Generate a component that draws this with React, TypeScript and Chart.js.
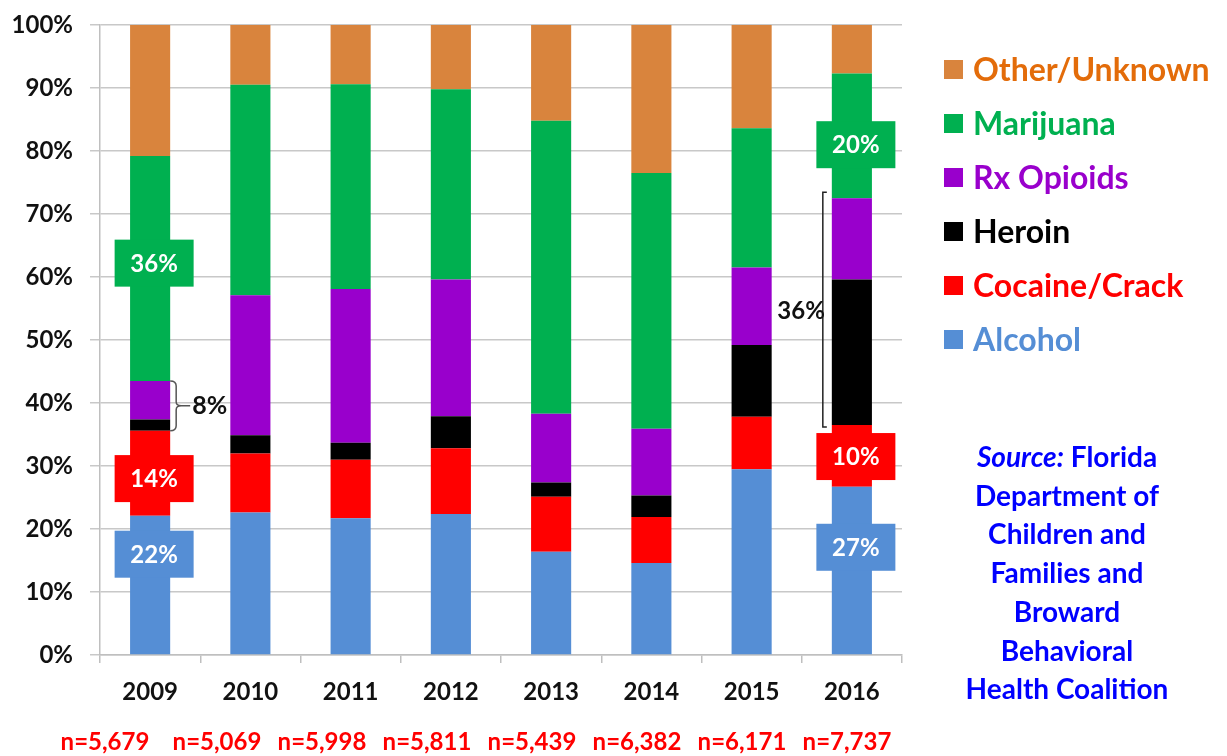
import React, { useEffect, useRef } from "react";
import { Chart, registerables } from "chart.js";

Chart.register(...registerables);

// ---------- data ----------
const years = ["2009", "2010", "2011", "2012", "2013", "2014", "2015", "2016"];
const sampleSizes = ["n=5,679", "n=5,069", "n=5,998", "n=5,811", "n=5,439", "n=6,382", "n=6,171", "n=7,737"];

const alcohol = [22.1, 22.6, 21.7, 22.4, 16.4, 14.6, 29.5, 26.7];
const cocaineCrack = [13.5, 9.4, 9.3, 10.4, 8.7, 7.3, 8.3, 9.8];
const heroin = [1.8, 2.9, 2.7, 5.1, 2.3, 3.4, 11.4, 23.1];
const rxOpioids = [6.1, 22.2, 24.4, 21.7, 10.9, 10.6, 12.3, 12.9];
const marijuana = [35.7, 33.4, 32.5, 30.2, 46.5, 40.6, 22.1, 19.8];
const otherUnknown = [20.8, 9.5, 9.4, 10.2, 15.2, 23.5, 16.4, 7.7];

const seriesNames = ["Alcohol", "Cocaine/Crack", "Heroin", "Rx Opioids", "Marijuana", "Other/Unknown"];
const seriesValues = [alcohol, cocaineCrack, heroin, rxOpioids, marijuana, otherUnknown];

// callout labels: series, year, text, value on the y axis where the label sits
const calloutSeries = ["Marijuana", "Cocaine/Crack", "Alcohol", "Marijuana", "Cocaine/Crack", "Alcohol"];
const calloutYears = ["2009", "2009", "2009", "2016", "2016", "2016"];
const calloutTexts = ["36%", "14%", "22%", "20%", "10%", "27%"];
const calloutAt = [62.2, 28.0, 16.0, 81.0, 31.5, 17.1];

// bracket annotations spanning Heroin + Rx Opioids
const bracketYears = ["2009", "2016"];
const bracketTexts = ["8%", "36%"];
const bracketFrom = "Heroin";
const bracketTo = "Rx Opioids";

const sourceLines = ["Florida", "Department of", "Children and", "Families and", "Broward", "Behavioral", "Health Coalition"];

// ---------- styles ----------
const FONT = 'Lato, "Open Sans", "DejaVu Sans", sans-serif';
const barColors: Record<string, string> = {
  "Alcohol": "#558ED5",
  "Cocaine/Crack": "#FF0000",
  "Heroin": "#000000",
  "Rx Opioids": "#9900CC",
  "Marijuana": "#00B050",
  "Other/Unknown": "#D9843D",
};
const legendTextColors: Record<string, string> = {
  "Alcohol": "#558ED5",
  "Cocaine/Crack": "#FF0000",
  "Heroin": "#000000",
  "Rx Opioids": "#9900CC",
  "Marijuana": "#00B050",
  "Other/Unknown": "#E36C0A",
};

const annotationsPlugin = {
  id: "annotations",
  afterDatasetsDraw(chart: any) {
    const ctx = chart.ctx as CanvasRenderingContext2D;
    const ys = chart.scales.y;
    const dsIndex = (name: string) => chart.data.datasets.findIndex((d: any) => d.label === name);

    ctx.save();
    // callouts
    for (let i = 0; i < calloutTexts.length; i++) {
      const di = dsIndex(calloutSeries[i]);
      const yi = years.indexOf(calloutYears[i]);
      const bar = chart.getDatasetMeta(di).data[yi];
      const cx = bar.x + 4;
      const cy = ys.getPixelForValue(calloutAt[i]);
      const w = 79, h = 47;
      ctx.fillStyle = barColors[calloutSeries[i]];
      ctx.fillRect(cx - w / 2, cy - h / 2, w, h);
      ctx.fillStyle = "#FFFFFF";
      ctx.font = `bold 24px ${FONT}`;
      ctx.textAlign = "center";
      ctx.textBaseline = "middle";
      ctx.fillText(calloutTexts[i], cx, cy + 1);
    }

    // brackets
    const fromIdx = dsIndex(bracketFrom);
    const toIdx = dsIndex(bracketTo);
    bracketYears.forEach((yr, k) => {
      const yi = years.indexOf(yr);
      let below = 0;
      for (let d = 0; d < fromIdx; d++) below += chart.data.datasets[d].data[yi];
      let upto = 0;
      for (let d = 0; d <= toIdx; d++) upto += chart.data.datasets[d].data[yi];
      const bar = chart.getDatasetMeta(toIdx).data[yi];
      const yTop = ys.getPixelForValue(upto);
      const yBot = ys.getPixelForValue(below);
      const yMid = (yTop + yBot) / 2;
      ctx.lineWidth = 1.5;
      if (k === 0) {
        const xr = bar.x + bar.width / 2;
        ctx.strokeStyle = "#555";
        ctx.beginPath();
        ctx.moveTo(xr, yTop);
        ctx.quadraticCurveTo(xr + 6, yTop, xr + 6, yTop + 5);
        ctx.lineTo(xr + 6, yMid - 4);
        ctx.quadraticCurveTo(xr + 6, yMid, xr + 11, yMid);
        ctx.quadraticCurveTo(xr + 6, yMid, xr + 6, yMid + 4);
        ctx.lineTo(xr + 6, yBot - 5);
        ctx.quadraticCurveTo(xr + 6, yBot, xr, yBot);
        ctx.moveTo(xr + 11, yMid);
        ctx.lineTo(xr + 20, yMid);
        ctx.stroke();
        ctx.fillStyle = "#111";
        ctx.font = `bold 25px ${FONT}`;
        ctx.textAlign = "left";
        ctx.textBaseline = "middle";
        ctx.fillText(bracketTexts[k], xr + 22, yMid);
      } else {
        const xl = bar.x - bar.width / 2 - 9;
        const t = yTop - 6;
        const b = yBot + 2;
        ctx.strokeStyle = "#222";
        ctx.beginPath();
        ctx.moveTo(xl + 4, t);
        ctx.lineTo(xl, t);
        ctx.lineTo(xl, b);
        ctx.lineTo(xl + 4, b);
        ctx.stroke();
        ctx.fillStyle = "#111";
        ctx.font = `bold 24px ${FONT}`;
        ctx.textAlign = "right";
        ctx.textBaseline = "middle";
        ctx.fillText(bracketTexts[k], xl + 2, (t + b) / 2 + 2);
      }
    });
    ctx.restore();
  },
  afterDraw(chart: any) {
    const ctx = chart.ctx as CanvasRenderingContext2D;
    const area = chart.chartArea;
    ctx.save();

    // sample sizes row
    ctx.font = `bold 24px ${FONT}`;
    ctx.fillStyle = "#FF0000";
    ctx.textAlign = "center";
    ctx.textBaseline = "middle";
    sampleSizes.forEach((s, i) => {
      const left = area.left - 41 + (i === 0 ? 0 : 7) + i * 105;
      ctx.fillText(s, left + 46, 742);
    });

    // legend (top entry = last series)
    const lx = area.right + 42;
    const rows = [...chart.data.datasets].reverse();
    rows.forEach((ds: any, k: number) => {
      const cy = 70 + k * 54;
      ctx.fillStyle = ds.backgroundColor;
      ctx.fillRect(lx, cy - 10, 19, 19);
      ctx.fillStyle = legendTextColors[ds.label];
      ctx.font = `bold 32px ${FONT}`;
      ctx.textAlign = "left";
      ctx.textBaseline = "middle";
      ctx.fillText(ds.label, lx + 29, cy + 1);
    });

    // source note
    const cx = area.right + 165;
    ctx.fillStyle = "#0000FF";
    ctx.textBaseline = "middle";
    const srcFont = 28;
    sourceLines.forEach((line, k) => {
      const y = 458 + k * 38.7;
      if (k === 0) {
        ctx.font = `italic bold ${srcFont}px ${FONT}`;
        const a = "Source:";
        const wa = ctx.measureText(a).width;
        ctx.font = `bold ${srcFont}px ${FONT}`;
        const b = " " + line;
        const wb = ctx.measureText(b).width;
        const start = cx - (wa + wb) / 2;
        ctx.textAlign = "left";
        ctx.font = `italic bold ${srcFont}px ${FONT}`;
        ctx.fillText(a, start, y);
        ctx.font = `bold ${srcFont}px ${FONT}`;
        ctx.fillText(b, start + wa, y);
      } else {
        ctx.font = `bold ${srcFont}px ${FONT}`;
        ctx.textAlign = "center";
        ctx.fillText(line, cx, y);
      }
    });
    ctx.restore();
  },
};

export default function App() {
  const canvasRef = useRef<HTMLCanvasElement | null>(null);

  useEffect(() => {
    if (!canvasRef.current) return;
    const chart = new Chart(canvasRef.current, {
      type: "bar",
      data: {
        labels: years,
        datasets: seriesNames.map((name, i) => ({
          label: name,
          data: seriesValues[i],
          backgroundColor: barColors[name],
          borderWidth: 0,
          barPercentage: 0.4,
          categoryPercentage: 1,
        })),
      },
      options: {
        animation: false,
        responsive: true,
        maintainAspectRatio: false,
        layout: { padding: { left: 0, top: 25, right: 325, bottom: 0 } },
        plugins: {
          legend: { display: false },
          tooltip: { enabled: false },
          title: { display: false },
        },
        scales: {
          x: {
            stacked: true,
            grid: {
              offset: true,
              drawOnChartArea: false,
              drawTicks: true,
              tickLength: 8,
              color: "#BFBFBF",
              lineWidth: 1.5,
            },
            border: { display: true, color: "#BFBFBF", width: 1.5 },
            ticks: {
              color: "#111",
              font: { family: FONT, size: 24, weight: "bold" },
              padding: 15,
            },
            afterFit(scale: any) {
              scale.height = 101;
            },
          },
          y: {
            stacked: true,
            min: 0,
            max: 100,
            ticks: {
              stepSize: 10,
              color: "#111",
              font: { family: FONT, size: 24, weight: "bold" },
              padding: 17,
              callback: (v: any) => `${v}%`,
            },
            grid: {
              color: "#C8C8C8",
              lineWidth: 1.5,
              tickLength: 10,
              drawTicks: true,
            },
            border: { display: true, color: "#BFBFBF", width: 1.5 },
            afterFit(scale: any) {
              scale.width = 100;
              scale.paddingTop = 0;
              scale.paddingBottom = 0;
            },
          },
        },
      },
      plugins: [annotationsPlugin],
    });
    return () => chart.destroy();
  }, []);

  return (
    <div style={{ position: "fixed", left: 0, top: 0, width: 1227, height: 756, background: "#fff" }}>
      <canvas ref={canvasRef} />
    </div>
  );
}
